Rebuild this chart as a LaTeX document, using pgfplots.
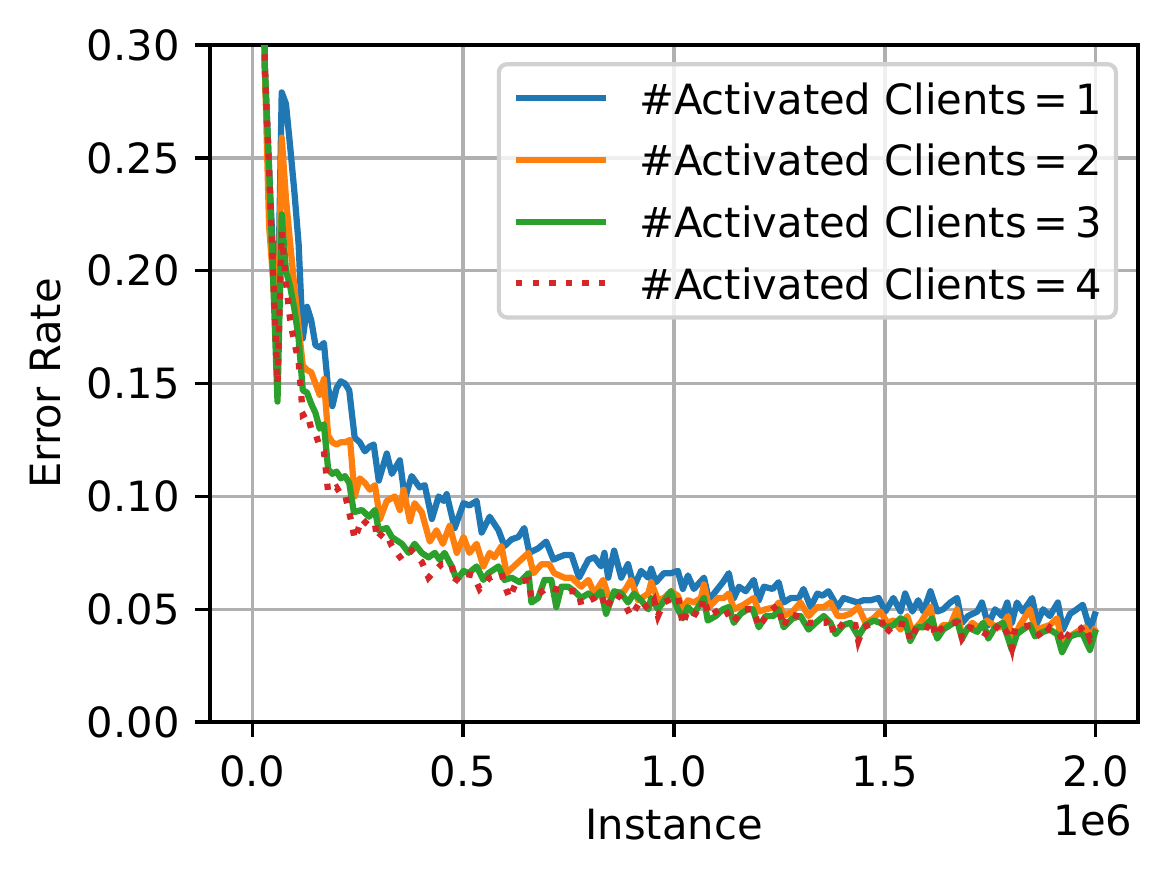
\documentclass[border=0pt]{standalone}
\usepackage{fontspec}
\setmainfont{DejaVu Sans}
\usepackage{pgfplots}
\pgfplotsset{compat=1.18}
\definecolor{tabblue}{HTML}{1F77B4}
\definecolor{taborange}{HTML}{FF7F0E}
\definecolor{tabgreen}{HTML}{2CA02C}
\definecolor{tabred}{HTML}{D62728}
\definecolor{gridgray}{HTML}{B0B0B0}
\newcommand{\eqsp}{\hspace{1.6pt}=\hspace{1.6pt}}
\begin{document}
\fontsize{10}{12}\selectfont
\begin{tikzpicture}
\begin{axis}[
    at={(0,0)}, anchor=south west,
    scale only axis,
    width=222.7pt, height=162.5pt,
    xmin=-0.1, xmax=2.1,
    ymin=0, ymax=0.3,
    xtick={0,0.5,1,1.5,2},
    ytick={0,0.05,0.1,0.15,0.2,0.25,0.3},
    scaled ticks=false,
    /pgf/number format/assume math mode=true,
    xticklabel style={anchor=north, yshift=-4.4pt,
      /pgf/number format/fixed, /pgf/number format/fixed zerofill,
      /pgf/number format/precision=1},
    yticklabel style={anchor=east, xshift=-3.6pt,
      /pgf/number format/fixed, /pgf/number format/fixed zerofill,
      /pgf/number format/precision=2},
    ticklabel style={font=\fontsize{10}{12}\selectfont, inner sep=0pt},
    tick align=outside,
    major tick length=3.5pt,
    tick style={black, line width=0.8pt},
    xtick pos=left, ytick pos=left,
    axis line style={line width=0.8pt},
    grid=major,
    grid style={color=gridgray, line width=0.8pt},
    legend cell align=left,
    legend image code/.code={\draw[#1, line cap=butt] (0pt,0pt) -- (21.5pt,0pt);},
    legend style={
      at={(rel axis cs:1,1)}, anchor=north east,
      xshift=-4.8pt, yshift=-4.1pt,
      draw=black!18, line width=1pt, rounded corners=2pt,
      fill=white, fill opacity=0.8, text opacity=1,
      inner xsep=3.4pt, inner ysep=4.4pt,
      row sep=7.2pt, column sep=7.3pt,
      font=\fontsize{10}{12}\selectfont,
      nodes={inner sep=0pt, text height=7.6pt, text depth=0pt},
    },
]

  % 1 client
  \addplot[tabblue, line width=1.5pt, line join=round] coordinates {
    (0.02,0.46) (0.03,0.29) (0.04,0.245) (0.05,0.205) (0.06,0.172)
    (0.07,0.279) (0.08,0.274) (0.09,0.255) (0.10,0.235) (0.11,0.212)
    (0.12,0.170) (0.13,0.184) (0.14,0.178) (0.15,0.167) (0.16,0.166)
    (0.17,0.168) (0.18,0.148) (0.19,0.140) (0.20,0.148) (0.21,0.151)
    (0.22,0.150) (0.23,0.147) (0.243,0.126) (0.255,0.124) (0.267,0.120)
    (0.278,0.122) (0.288,0.123) (0.300,0.107) (0.319,0.119) (0.331,0.110)
    (0.350,0.116) (0.362,0.099) (0.378,0.109) (0.397,0.104) (0.409,0.105)
    (0.426,0.090) (0.442,0.100) (0.454,0.098) (0.461,0.101) (0.480,0.086)
    (0.501,0.097) (0.515,0.096) (0.532,0.098) (0.544,0.084) (0.563,0.091)
    (0.584,0.085) (0.598,0.078) (0.615,0.081) (0.631,0.082) (0.645,0.086)
    (0.657,0.075) (0.678,0.077) (0.697,0.080) (0.714,0.072) (0.726,0.073)
    (0.740,0.074) (0.757,0.074) (0.775,0.064) (0.797,0.072) (0.811,0.073)
    (0.827,0.069) (0.835,0.075) (0.844,0.064) (0.858,0.076) (0.875,0.064)
    (0.891,0.070) (0.905,0.060) (0.922,0.067) (0.939,0.064) (0.946,0.068)
    (0.957,0.062) (0.976,0.066) (0.993,0.066) (1.009,0.067) (1.021,0.059)
    (1.033,0.065) (1.047,0.059) (1.071,0.064) (1.083,0.054) (1.099,0.058)
    (1.116,0.062) (1.130,0.066) (1.142,0.055) (1.154,0.060) (1.170,0.058)
    (1.189,0.063) (1.201,0.054) (1.213,0.060) (1.234,0.059) (1.248,0.062)
    (1.260,0.053) (1.277,0.055) (1.296,0.055) (1.307,0.059) (1.324,0.051)
    (1.340,0.057) (1.352,0.056) (1.366,0.058) (1.388,0.051) (1.402,0.055)
    (1.418,0.054) (1.435,0.053) (1.449,0.054) (1.466,0.054) (1.485,0.055)
    (1.501,0.049) (1.520,0.055) (1.537,0.049) (1.548,0.057) (1.565,0.049)
    (1.579,0.054) (1.591,0.049) (1.608,0.058) (1.624,0.049) (1.638,0.050)
    (1.655,0.053) (1.671,0.055) (1.683,0.044) (1.697,0.047) (1.719,0.049)
    (1.730,0.053) (1.745,0.043) (1.761,0.050) (1.778,0.047) (1.790,0.053)
    (1.801,0.044) (1.813,0.053) (1.827,0.049) (1.849,0.055) (1.861,0.044)
    (1.875,0.050) (1.891,0.047) (1.910,0.053) (1.922,0.041) (1.939,0.048)
    (1.955,0.050) (1.969,0.052) (1.986,0.041) (2.000,0.049)
  };
  \addlegendentry{\#Activated Clients\eqsp 1}

  % 2 clients
  \addplot[taborange, line width=1.5pt, line join=round] coordinates {
    (0.02,0.45) (0.03,0.29) (0.04,0.220) (0.05,0.195) (0.06,0.165)
    (0.07,0.259) (0.08,0.232) (0.09,0.212) (0.10,0.193) (0.11,0.175)
    (0.12,0.158) (0.13,0.156) (0.14,0.155) (0.15,0.150) (0.16,0.145)
    (0.17,0.152) (0.18,0.127) (0.19,0.124) (0.20,0.123) (0.21,0.124)
    (0.22,0.124) (0.232,0.125) (0.243,0.100) (0.255,0.108) (0.267,0.106)
    (0.279,0.103) (0.291,0.105) (0.303,0.090) (0.319,0.098) (0.338,0.100)
    (0.350,0.094) (0.359,0.103) (0.374,0.089) (0.385,0.097) (0.402,0.093)
    (0.421,0.080) (0.437,0.085) (0.452,0.079) (0.468,0.087) (0.485,0.075)
    (0.501,0.082) (0.515,0.075) (0.532,0.079) (0.548,0.069) (0.563,0.075)
    (0.574,0.073) (0.591,0.078) (0.603,0.066) (0.626,0.070) (0.655,0.075)
    (0.667,0.066) (0.686,0.070) (0.704,0.070) (0.716,0.066) (0.740,0.064)
    (0.757,0.064) (0.780,0.060) (0.797,0.063) (0.811,0.057) (0.832,0.063)
    (0.844,0.056) (0.863,0.057) (0.882,0.058) (0.898,0.063) (0.915,0.054)
    (0.939,0.057) (0.946,0.062) (0.962,0.054) (0.976,0.055) (0.993,0.058)
    (1.009,0.056) (1.021,0.050) (1.033,0.054) (1.047,0.053) (1.064,0.055)
    (1.071,0.061) (1.083,0.051) (1.104,0.055) (1.118,0.055) (1.130,0.057)
    (1.142,0.050) (1.165,0.052) (1.189,0.055) (1.201,0.049) (1.217,0.050)
    (1.241,0.051) (1.248,0.053) (1.260,0.047) (1.281,0.049) (1.300,0.053)
    (1.319,0.047) (1.340,0.051) (1.355,0.051) (1.371,0.053) (1.388,0.047)
    (1.402,0.047) (1.418,0.048) (1.437,0.051) (1.454,0.044) (1.473,0.046)
    (1.489,0.049) (1.506,0.044) (1.520,0.045) (1.537,0.041) (1.553,0.047)
    (1.565,0.040) (1.584,0.044) (1.608,0.051) (1.619,0.039) (1.638,0.043)
    (1.655,0.043) (1.671,0.050) (1.683,0.038) (1.707,0.044) (1.721,0.042)
    (1.742,0.045) (1.757,0.043) (1.773,0.042) (1.792,0.047) (1.801,0.035)
    (1.820,0.043) (1.844,0.050) (1.856,0.041) (1.875,0.042) (1.891,0.043)
    (1.908,0.046) (1.920,0.035) (1.939,0.038) (1.955,0.040) (1.974,0.042)
    (1.986,0.038) (2.000,0.042)
  };
  \addlegendentry{\#Activated Clients\eqsp 2}

  % 3 clients
  \addplot[tabgreen, line width=1.5pt, line join=round] coordinates {
    (0.02,0.45) (0.03,0.29) (0.04,0.245) (0.05,0.195) (0.06,0.142)
    (0.07,0.225) (0.08,0.200) (0.09,0.193) (0.10,0.183) (0.11,0.170)
    (0.12,0.147) (0.13,0.146) (0.14,0.141) (0.15,0.137) (0.16,0.130)
    (0.17,0.132) (0.18,0.112) (0.19,0.110) (0.20,0.111) (0.21,0.108)
    (0.22,0.109) (0.23,0.106) (0.241,0.093) (0.260,0.094) (0.277,0.091)
    (0.291,0.094) (0.300,0.085) (0.319,0.086) (0.331,0.082) (0.355,0.079)
    (0.371,0.075) (0.385,0.079) (0.402,0.075) (0.418,0.073) (0.433,0.075)
    (0.444,0.072) (0.456,0.075) (0.473,0.069) (0.485,0.063) (0.501,0.067)
    (0.513,0.066) (0.532,0.069) (0.548,0.063) (0.560,0.066) (0.584,0.069)
    (0.598,0.063) (0.615,0.064) (0.634,0.062) (0.655,0.066) (0.662,0.053)
    (0.678,0.055) (0.693,0.063) (0.709,0.063) (0.721,0.051) (0.733,0.060)
    (0.749,0.060) (0.764,0.058) (0.780,0.055) (0.797,0.057) (0.811,0.055)
    (0.827,0.058) (0.839,0.048) (0.858,0.058) (0.875,0.057) (0.891,0.053)
    (0.905,0.057) (0.922,0.054) (0.939,0.050) (0.946,0.055) (0.962,0.050)
    (0.981,0.055) (0.993,0.058) (1.009,0.050) (1.021,0.046) (1.033,0.051)
    (1.047,0.048) (1.071,0.055) (1.080,0.045) (1.099,0.047) (1.116,0.050)
    (1.130,0.051) (1.142,0.044) (1.158,0.048) (1.175,0.050) (1.187,0.050)
    (1.201,0.042) (1.217,0.047) (1.236,0.047) (1.248,0.050) (1.260,0.042)
    (1.281,0.046) (1.300,0.047) (1.319,0.041) (1.336,0.044) (1.355,0.047)
    (1.371,0.044) (1.383,0.039) (1.402,0.043) (1.418,0.044) (1.437,0.038)
    (1.454,0.043) (1.473,0.045) (1.489,0.044) (1.506,0.042) (1.520,0.043)
    (1.537,0.046) (1.548,0.045) (1.560,0.036) (1.577,0.042) (1.591,0.042)
    (1.612,0.046) (1.624,0.037) (1.638,0.041) (1.655,0.043) (1.671,0.045)
    (1.683,0.037) (1.697,0.042) (1.719,0.040) (1.733,0.044) (1.745,0.037)
    (1.761,0.042) (1.780,0.044) (1.801,0.032) (1.813,0.039) (1.827,0.041)
    (1.844,0.043) (1.856,0.038) (1.875,0.040) (1.891,0.041) (1.908,0.039)
    (1.920,0.031) (1.939,0.038) (1.955,0.039) (1.969,0.039) (1.986,0.032)
    (2.000,0.041)
  };
  \addlegendentry{\#Activated Clients\eqsp 3}

  % 4 clients
  \addplot[tabred, line width=1.5pt, line cap=butt, dash pattern=on 1.5pt off 2.475pt] coordinates {
    (0.02,0.45) (0.03,0.29) (0.04,0.245) (0.05,0.197) (0.06,0.150)
    (0.07,0.217) (0.08,0.195) (0.09,0.178) (0.10,0.168) (0.11,0.160)
    (0.12,0.136) (0.13,0.137) (0.14,0.130) (0.15,0.128) (0.16,0.122)
    (0.17,0.120) (0.18,0.102) (0.19,0.103) (0.20,0.104) (0.21,0.101)
    (0.22,0.101) (0.236,0.088) (0.243,0.081) (0.260,0.090) (0.277,0.087)
    (0.291,0.088) (0.296,0.081) (0.310,0.084) (0.324,0.081) (0.331,0.078)
    (0.355,0.072) (0.378,0.076) (0.402,0.071) (0.418,0.064) (0.433,0.067)
    (0.449,0.070) (0.473,0.070) (0.480,0.062) (0.496,0.066) (0.525,0.065)
    (0.539,0.059) (0.563,0.064) (0.591,0.066) (0.598,0.061) (0.610,0.055)
    (0.626,0.062) (0.655,0.063) (0.662,0.055) (0.681,0.057) (0.702,0.060)
    (0.716,0.059) (0.749,0.058) (0.773,0.058) (0.780,0.052) (0.811,0.055)
    (0.827,0.057) (0.839,0.050) (0.858,0.057) (0.875,0.055) (0.898,0.047)
    (0.922,0.054) (0.939,0.050) (0.953,0.054) (0.962,0.047) (0.976,0.053)
    (1.009,0.056) (1.021,0.043) (1.033,0.050) (1.059,0.047) (1.071,0.055)
    (1.083,0.047) (1.118,0.051) (1.139,0.044) (1.163,0.050) (1.189,0.050)
    (1.201,0.042) (1.222,0.048) (1.246,0.052) (1.260,0.042) (1.272,0.048)
    (1.293,0.047) (1.307,0.046) (1.317,0.044) (1.331,0.044) (1.359,0.044)
    (1.371,0.046) (1.378,0.039) (1.402,0.044) (1.430,0.043) (1.437,0.036)
    (1.449,0.042) (1.473,0.044) (1.494,0.044) (1.501,0.039) (1.525,0.044)
    (1.553,0.043) (1.560,0.036) (1.577,0.043) (1.600,0.042) (1.612,0.045)
    (1.619,0.038) (1.631,0.041) (1.655,0.044) (1.674,0.044) (1.683,0.037)
    (1.702,0.042) (1.721,0.041) (1.749,0.038) (1.773,0.044) (1.792,0.039)
    (1.801,0.033) (1.809,0.042) (1.849,0.043) (1.872,0.037) (1.891,0.042)
    (1.915,0.039) (1.922,0.035) (1.943,0.041) (1.962,0.041) (1.974,0.043)
    (1.986,0.037) (2.000,0.041)
  };
  \addlegendentry{\#Activated Clients\eqsp 4}

\end{axis}
\node[rotate=90, anchor=base, inner sep=0pt] at (-35.8pt,81.25pt) {Error Rate};
\node[anchor=base, inner sep=0pt] at (111.35pt,-28.1pt) {Instance};
\node[anchor=base east, inner sep=0pt] at (221.5pt,-27.1pt) {1e6};
\pgfresetboundingbox
\path[use as bounding box] (-50.4pt,-37.9pt) rectangle (229.9pt,173.3pt);
\end{tikzpicture}
\end{document}
